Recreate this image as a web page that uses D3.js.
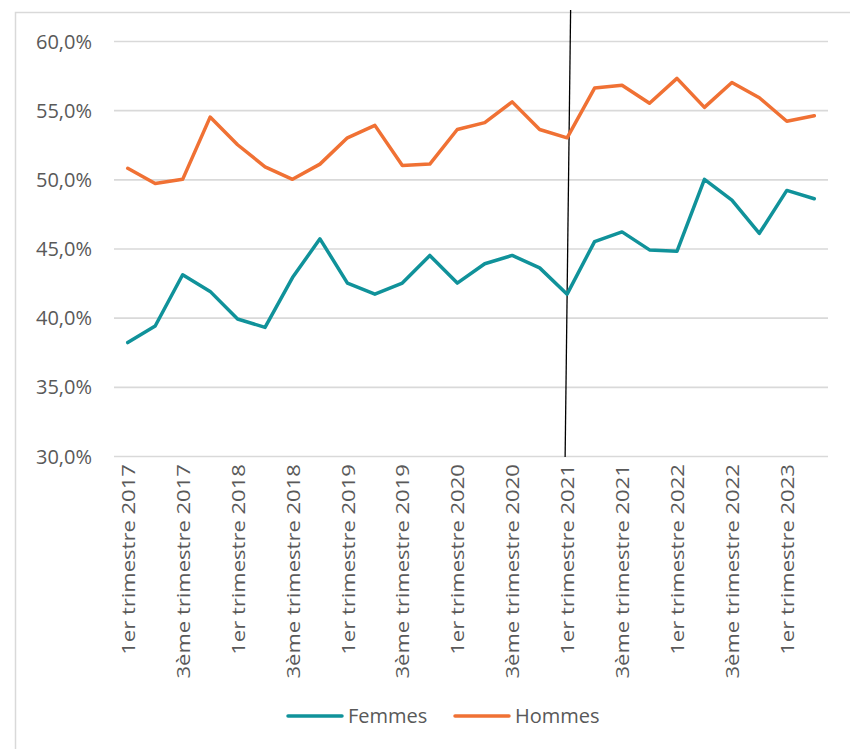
<!DOCTYPE html>
<html><head><meta charset="utf-8">
<script src="https://cdn.jsdelivr.net/npm/d3@7"></script>
<style>body{margin:0;background:#fff}svg{display:block}</style>
</head><body>
<svg id="c" width="850" height="749"></svg>
<script>
const categories = [
 "1er trimestre 2017","2ème trimestre 2017","3ème trimestre 2017","4ème trimestre 2017",
 "1er trimestre 2018","2ème trimestre 2018","3ème trimestre 2018","4ème trimestre 2018",
 "1er trimestre 2019","2ème trimestre 2019","3ème trimestre 2019","4ème trimestre 2019",
 "1er trimestre 2020","2ème trimestre 2020","3ème trimestre 2020","4ème trimestre 2020",
 "1er trimestre 2021","2ème trimestre 2021","3ème trimestre 2021","4ème trimestre 2021",
 "1er trimestre 2022","2ème trimestre 2022","3ème trimestre 2022","4ème trimestre 2022",
 "1er trimestre 2023","2ème trimestre 2023"];
const femmes = [38.2,39.4,43.1,41.9,39.9,39.3,42.9,45.7,42.5,41.7,42.5,44.5,42.5,43.9,44.5,43.6,41.7,45.5,46.2,44.9,44.8,50.0,48.5,46.1,49.2,48.6];
const hommes = [50.8,49.7,50.0,54.5,52.5,50.9,50.0,51.1,53.0,53.9,51.0,51.1,53.6,54.1,55.6,53.6,53.0,56.6,56.8,55.5,57.3,55.2,57.0,55.9,54.2,54.6];
const yTicks = [30,35,40,45,50,55,60];
const seriesNames = ["Femmes","Hommes"];
const colors = ["#10929a","#f07134"];
const markerCategory = "1er trimestre 2021";

const svg = d3.select("#c");
const textColor = "#595959";
const font = "'Open Sans', sans-serif";

// frame
svg.append("path").attr("d","M15.5,749 L15.5,12.5 L850,12.5")
  .attr("fill","none").attr("stroke","#d9d9d9").attr("stroke-width",1.5);

const x = d3.scalePoint().domain(categories).range([114,828]).padding(0.5);
const y = d3.scaleLinear().domain([30,60]).range([456,41]);

// grid
const grid = svg.append("g").attr("transform","translate(114,0)")
  .call(d3.axisLeft(y).tickValues(yTicks).tickSize(-(828-114)).tickFormat(d => d.toFixed(1).replace(".",",")+"%"));
grid.select(".domain").remove();
grid.selectAll(".tick line").attr("stroke","#d9d9d9").attr("stroke-width",1.6);
grid.selectAll(".tick text").attr("x",-22).attr("fill",textColor)
  .attr("font-family",font).attr("font-size",20).attr("dy","0.35em");

// x labels
const xa = svg.append("g").attr("transform","translate(0,456)")
  .call(d3.axisBottom(x).tickValues(categories.filter((d,i)=>i%2===0)).tickSize(0));
xa.select(".domain").remove();
xa.selectAll(".tick text")
  .attr("transform","rotate(-90) scale(1.16,1)")
  .attr("x",-7).attr("y",0).attr("dy","0.35em")
  .attr("text-anchor","end")
  .attr("fill",textColor).attr("font-family",font).attr("font-size",19);

// vertical marker line
const mx = x(markerCategory);
svg.append("line").attr("x1",mx+3.5).attr("y1",10).attr("x2",mx-2).attr("y2",y(30)+1)
  .attr("stroke","#000").attr("stroke-width",1.3);

// lines
const line = d3.line().x((d,i)=>x(categories[i])).y(d=>y(d));
[femmes,hommes].forEach((s,k)=>{
  svg.append("path").datum(s).attr("d",line).attr("fill","none")
    .attr("stroke",colors[k]).attr("stroke-width",3.5)
    .attr("stroke-linejoin","round").attr("stroke-linecap","round");
});

// legend
const legendX = [288,455];
const leg = svg.append("g");
seriesNames.forEach((n,k)=>{
  leg.append("line").attr("x1",legendX[k]).attr("x2",legendX[k]+54).attr("y1",716).attr("y2",716)
    .attr("stroke",colors[k]).attr("stroke-width",3.5).attr("stroke-linecap","round");
  leg.append("text").attr("x",legendX[k]+60).attr("y",716).attr("dy","0.35em")
    .attr("fill",textColor).attr("font-family",font).attr("font-size",20).text(n);
});
</script>
</body></html>
